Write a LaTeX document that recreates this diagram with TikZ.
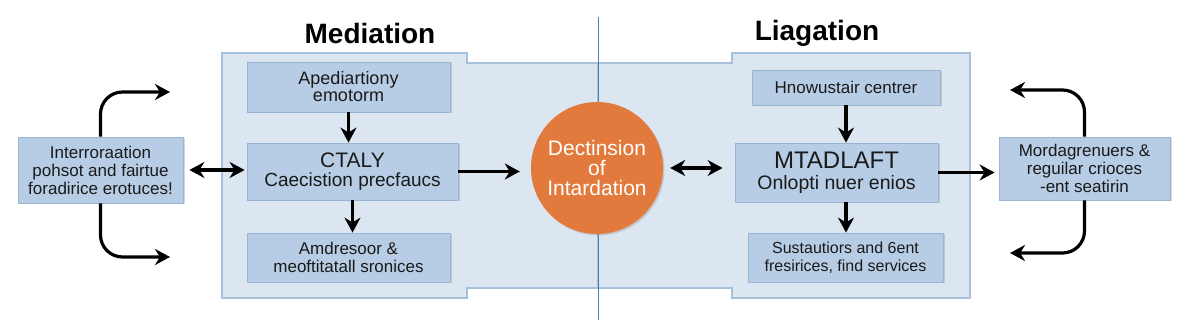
\documentclass[tikz,border=0pt]{standalone}
\usepackage{fontspec}
\setmainfont{Liberation Sans}
\usetikzlibrary{arrows.meta,shadows}
\definecolor{panelfill}{HTML}{DCE6F1}
\definecolor{panelline}{HTML}{A7C0DC}
\definecolor{boxfill}{HTML}{B7CDE5}
\definecolor{boxline}{HTML}{9AB5D4}
\definecolor{circfill}{HTML}{E37A3D}
\definecolor{divider}{HTML}{4F7FA6}
\definecolor{txt}{HTML}{1A1A1A}
\begin{document}
\begin{tikzpicture}[x=1pt,y=-1pt,
  panel/.style={fill=panelfill,draw=panelline,line width=1.2pt},
  box/.style={rectangle,fill=boxfill,draw=boxline,line width=0.8pt,align=center,text=txt,
    font=\fontsize{17}{18}\selectfont,inner sep=2pt,
    drop shadow={opacity=0.3,shadow xshift=1.5pt,shadow yshift=-1.5pt}},
  arr/.style={line width=3.2pt,-{Stealth[length=15pt,width=16pt]}},
  darr/.style={line width=3.2pt,{Stealth[length=15pt,width=16pt]}-{Stealth[length=15pt,width=16pt]}},
  title/.style={font=\bfseries\fontsize{28}{30}\selectfont,text=black}
]
\useasboundingbox (0,0) rectangle (1200,328);
\fill[white] (0,0) rectangle (1200,328);

% panels
\draw[panel] (222,53) -- (467,53) -- (467,63) -- (598,63) -- (598,288) -- (467,288) -- (467,298) -- (222,298) -- cycle;
\draw[panel] (970,53) -- (732,53) -- (732,63) -- (598,63) -- (598,288) -- (732,288) -- (732,298) -- (970,298) -- cycle;
\draw[divider,line width=0.8pt] (598,17) -- (598,320);

% titles
\node[title] (t1) at (370,33) {Mediation};
\node[title] (t2) at (817,33) {Liagation};

% left panel boxes
\node[box,minimum width=203pt,minimum height=50pt,font=\fontsize{18}{17}\selectfont] (a1) at (348.5,87) {Apediartiony\\emotorm};
\node[box,minimum width=211pt,minimum height=57pt] (a2) at (352.5,171.5) {{\fontsize{21}{23}\selectfont CTALY}\\[1pt]{\fontsize{19}{21}\selectfont Caecistion precfaucs}};
\node[box,minimum width=203pt,minimum height=49pt] (a3) at (348.5,257.5) {Amdresoor \&\\meoftitatall sronices};

% right panel boxes
\node[box,minimum width=188pt,minimum height=35pt] (b1) at (846,87.5) {Hnowustair centrer};
\node[box,minimum width=203pt,minimum height=59pt] (b2) at (836.5,172.5) {{\fontsize{24}{24}\selectfont MTADLAFT}\\[3pt]{\fontsize{19.5}{21}\selectfont Onlopti nuer enios}};
\node[box,minimum width=195pt,minimum height=49pt,font=\fontsize{16}{18}\selectfont] (b3) at (845.5,257.5) {Sustautiors and 6ent\\fresirices, find services};

% outer boxes
\node[box,minimum width=165pt,minimum height=66pt] (lext) at (100.5,170) {Interroraation\\pohsot and fairtue\\foradirice erotuces!};
\node[box,minimum width=171pt,minimum height=63pt] (rext) at (1084.5,168.5) {Mordagrenuers \&\\reguilar crioces\\-ent seatirin};

% circle
\node[circle,fill=circfill,minimum size=132pt,text=white,align=center,
  font=\fontsize{21}{20}\selectfont,drop shadow={opacity=0.3,shadow xshift=1.5pt,shadow yshift=-1.5pt}] (c) at (597,168) {Dectinsion\\of\\Intardation};

% connectors
\draw[arr] (a1.south) -- (a1.south |- a2.north);
\draw[arr] (a2.south) -- (a2.south |- a3.north);
\draw[arr] (b1.south) -- (b1.south |- b2.north);
\draw[arr] (b2.south -| b1.south) -- (b1.south |- b3.north);
\draw[darr,shorten <=6pt,shorten >=2pt] (lext.east) -- (lext.east -| a2.west);
\draw[arr,shorten >=11pt] (a2.east) -- (a2.east -| c.west);
\draw[darr,shorten <=7pt,shorten >=12pt] (c.east) -- (c.east -| b2.west);
\draw[arr,shorten >=4pt] (b2.east) -- (b2.east -| rext.west);

\coordinate (lt) at (170,92);
\coordinate (lb) at (170,257);
\coordinate (rt) at (1010,90);
\coordinate (rb) at (1010,253);
\draw[arr,rounded corners=22pt] (lext.north) |- (lt);
\draw[arr,rounded corners=22pt] (lext.south) |- (lb);
\draw[arr,rounded corners=22pt] (rext.north) |- (rt);
\draw[arr,rounded corners=22pt] (rext.south) |- (rb);
\end{tikzpicture}
\end{document}
